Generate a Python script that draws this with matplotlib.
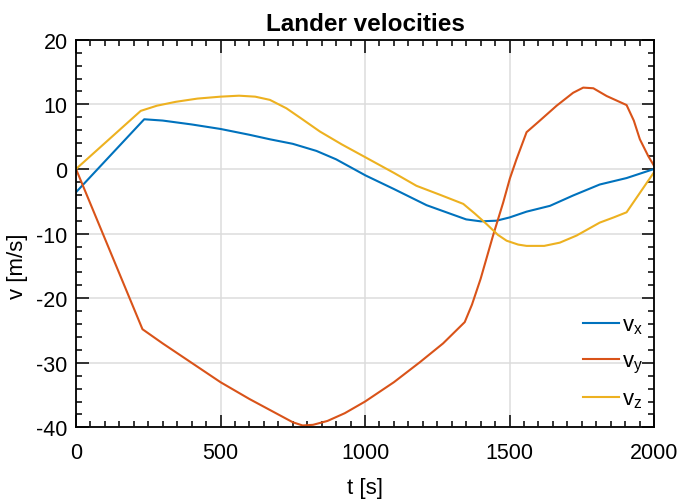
import matplotlib
matplotlib.use("Agg")
import matplotlib.pyplot as plt
from matplotlib.ticker import MultipleLocator

plt.rcParams['font.family'] = ['Liberation Sans', 'DejaVu Sans']
plt.rcParams['axes.unicode_minus'] = False
plt.rcParams['mathtext.fontset'] = 'custom'
plt.rcParams['mathtext.rm'] = 'Liberation Sans'

# v_x
t_x = [0, 236, 300, 400, 500, 600, 671, 750, 832, 900, 1002, 1100, 1213, 1300,
       1350, 1400, 1455, 1500, 1559, 1640, 1720, 1812, 1905, 2000]
v_x = [-3.6, 7.7, 7.5, 6.9, 6.2, 5.3, 4.6, 3.9, 2.8, 1.5, -1.0, -3.1, -5.6, -7.0,
       -7.8, -8.1, -8.0, -7.5, -6.6, -5.7, -4.1, -2.4, -1.4, 0.0]
# v_y
t_y = [0, 115, 230, 300, 400, 500, 600, 700, 750, 784, 820, 870, 930, 1000, 1100,
       1190, 1270, 1345, 1370, 1400, 1443, 1478, 1501, 1524, 1559, 1600, 1663, 1720,
       1755, 1790, 1836, 1905, 1930, 1951, 1980, 2000]
v_y = [0.0, -12.4, -24.8, -27.0, -30.0, -33.0, -35.6, -38.0, -39.2, -39.7, -39.6,
       -39.0, -37.8, -36.0, -33.0, -29.9, -27.0, -23.7, -21.0, -17.0, -10.3, -5.2,
       -1.5, 1.5, 5.7, 7.3, 9.8, 11.8, 12.6, 12.5, 11.3, 9.9, 7.5, 4.6, 2.0, 0.5]
# v_z
t_z = [0, 224, 280, 345, 420, 500, 564, 620, 671, 728, 780, 844, 920, 1002, 1100,
       1178, 1260, 1340, 1380, 1420, 1460, 1490, 1530, 1559, 1620, 1674, 1732, 1812,
       1860, 1905, 2000]
v_z = [0.0, 9.0, 9.8, 10.4, 10.9, 11.2, 11.35, 11.2, 10.7, 9.4, 7.8, 5.8, 3.8, 1.8,
       -0.6, -2.6, -4.0, -5.4, -6.9, -8.5, -10.2, -11.1, -11.7, -11.9, -11.9, -11.4,
       -10.3, -8.3, -7.5, -6.7, -0.5]

colors = ['#0072BD', '#D95319', '#EDB120']

fig = plt.figure(figsize=(6.81, 5.02), dpi=100)
ax = fig.add_axes([0.1116, 0.1466, 0.8488, 0.7721])

ax.plot(t_x, v_x, color=colors[0], lw=1.5, label=r'v$_\mathregular{x}$')
ax.plot(t_y, v_y, color=colors[1], lw=1.5, label=r'v$_\mathregular{y}$')
ax.plot(t_z, v_z, color=colors[2], lw=1.5, label=r'v$_\mathregular{z}$')

ax.set_xlim(0, 2000)
ax.set_ylim(-40, 20)
ax.xaxis.set_major_locator(MultipleLocator(500))
ax.xaxis.set_minor_locator(MultipleLocator(50))
ax.yaxis.set_major_locator(MultipleLocator(10))
ax.yaxis.set_minor_locator(MultipleLocator(2))
ax.grid(True, which='major', color='#dcdcdc', lw=1.1)
ax.set_axisbelow(True)
ax.tick_params(which='both', direction='in', top=True, right=True, labelsize=15.5,
               width=1.1, color='black')
ax.tick_params(which='major', length=9)
ax.tick_params(axis='x', which='major', pad=10.5)
ax.tick_params(axis='y', which='major', pad=6)
ax.tick_params(which='minor', length=4.3)
for s in ax.spines.values():
    s.set_linewidth(1.3)
    s.set_color('black')

ax.set_title('Lander velocities', fontsize=17.5, fontweight='bold', pad=7)
ax.set_xlabel('t [s]', fontsize=16, labelpad=10)
ax.set_ylabel('v [m/s]', fontsize=16)
ax.yaxis.set_label_coords(-0.083, 0.419)

leg = ax.legend(loc='lower right', frameon=False, fontsize=16, handlelength=1.62,
                handletextpad=0.15, labelspacing=0.63, borderaxespad=0.1,
                bbox_to_anchor=(1.0, 0.015))

fig.savefig('out.png', dpi=100)
